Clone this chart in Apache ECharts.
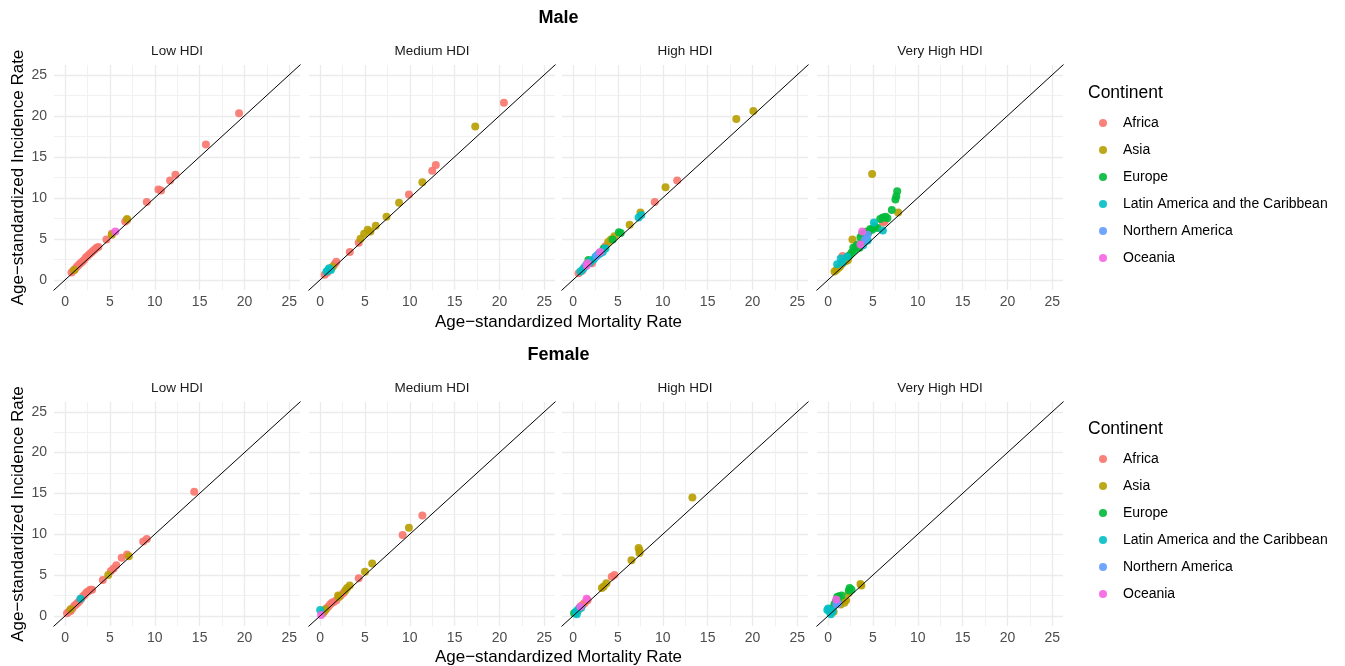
<!DOCTYPE html>
<html>
<head>
<meta charset="utf-8">
<script src="https://cdn.jsdelivr.net/npm/echarts@6/dist/echarts.min.js"></script>
<style>
html,body{margin:0;padding:0;background:#fff;}
#chart{width:1345px;height:666px;}
</style>
</head>
<body>
<div id="chart"></div>
<script>
// ---------- data ----------
const continents = ['Africa', 'Asia', 'Europe', 'Latin America and the Caribbean', 'Northern America', 'Oceania'];
const palette = ['#F8766D', '#B79F00', '#00BA38', '#00BFC4', '#619CFF', '#F564E3'];
const hdiLevels = ['Low HDI', 'Medium HDI', 'High HDI', 'Very High HDI'];
const sexes = ['Male', 'Female'];
const refLine = [-5, 30]; // identity line y = x

// [mortality, incidence]
const maleLow = {
  'Africa': [[0.7,0.9],[0.9,1.1],[1.1,1.3],[1.3,1.6],[1.5,1.8],[1.7,2.0],[1.9,2.2],[2.1,2.4],[2.3,2.7],[2.5,2.9],[2.7,3.1],[2.9,3.3],[3.1,3.5],[3.3,3.7],[3.5,3.9],[3.7,4.0],[4.6,4.9],[5.2,5.6],[6.7,7.1],[6.9,7.3],[9.1,9.5],[10.4,11.0],[10.7,10.9],[11.7,12.1],[12.3,12.8],[15.7,16.5],[19.4,20.3]],
  'Asia': [[1.0,1.2],[5.2,5.5],[6.9,7.4]],
  'Oceania': [[5.6,5.9]]
};
const maleMedium = {
  'Africa': [[0.5,0.6],[0.8,0.9],[1.6,1.9],[1.8,2.2],[3.3,3.4],[4.3,4.5],[9.9,10.4],[12.5,13.3],[12.9,14.0],[20.5,21.6]],
  'Asia': [[1.2,1.4],[1.4,1.6],[4.5,5.0],[4.9,5.6],[5.3,6.1],[5.6,5.9],[6.2,6.6],[7.4,7.7],[8.8,9.4],[11.4,11.9],[17.3,18.7]],
  'Latin America and the Caribbean': [[0.7,1.0],[0.9,1.2],[1.0,1.4],[1.2,1.2]]
};
const maleHigh = {
  'Africa': [[0.6,0.8],[1.0,1.1],[2.1,2.0],[3.6,4.1],[9.1,9.5],[11.6,12.1]],
  'Asia': [[3.9,4.6],[4.2,4.9],[4.6,5.3],[6.3,6.7],[7.5,8.2],[10.3,11.3],[18.2,19.6],[20.1,20.6]],
  'Europe': [[1.7,2.4],[2.9,3.2],[3.4,3.8],[4.4,4.9],[5.1,5.8],[5.3,5.7]],
  'Latin America and the Caribbean': [[0.8,1.0],[1.1,1.3],[1.3,1.6],[1.5,1.9],[1.8,2.0],[2.0,2.3],[2.3,2.5],[2.5,2.8],[2.7,3.0],[3.0,3.2],[3.3,3.4],[3.6,3.8],[7.3,7.6],[7.6,7.9]],
  'Northern America': [[2.6,2.9]],
  'Oceania': [[1.5,1.7],[1.6,2.0],[3.0,3.4]]
};
const maleVeryHigh = {
  'Africa': [[1.6,2.9],[3.7,4.4],[6.1,7.0],[6.3,7.1]],
  'Asia': [[0.7,1.0],[0.9,1.2],[1.1,1.4],[1.3,1.6],[1.5,1.9],[1.7,2.1],[2.0,2.3],[2.2,2.4],[2.4,3.0],[2.7,4.9],[4.9,12.9],[7.8,8.2]],
  'Europe': [[2.3,2.9],[2.6,3.3],[2.8,3.9],[2.9,3.6],[3.1,4.1],[3.3,4.3],[3.5,3.9],[3.6,5.2],[3.8,5.6],[4.0,4.6],[4.1,5.4],[4.3,5.9],[4.5,5.8],[4.7,6.2],[4.9,6.1],[5.2,6.5],[5.5,6.3],[5.8,7.4],[6.1,7.6],[6.4,7.7],[6.6,7.5],[7.1,8.5],[7.5,9.8],[7.6,10.2],[7.7,10.8]],
  'Latin America and the Caribbean': [[1.0,1.9],[1.4,2.6],[1.6,2.1],[2.1,2.8],[3.9,4.2],[4.4,4.8],[5.1,7.0],[6.1,6.0]],
  'Northern America': [[4.1,4.9],[4.4,5.5]],
  'Oceania': [[3.6,4.3],[3.8,5.9]]
};
const femaleLow = {
  'Africa': [[0.2,0.3],[0.4,0.5],[0.6,0.6],[0.8,0.9],[1.0,1.2],[1.2,1.4],[1.4,1.6],[1.6,1.8],[1.8,2.1],[2.0,2.4],[2.2,2.6],[2.4,2.9],[2.6,3.0],[2.8,3.2],[3.0,3.2],[4.2,4.4],[5.1,5.5],[5.4,5.8],[5.7,6.2],[6.3,7.1],[6.9,7.5],[8.7,9.1],[9.1,9.4],[14.4,15.2]],
  'Asia': [[0.6,0.8],[4.8,5.0],[7.1,7.3]],
  'Latin America and the Caribbean': [[1.7,2.1]]
};
const femaleMedium = {
  'Africa': [[0.5,0.6],[0.7,0.9],[0.9,1.1],[1.1,1.4],[1.3,1.6],[1.5,1.7],[1.8,1.9],[2.3,2.5],[2.6,2.8],[4.3,4.6],[9.2,9.9],[11.4,12.3]],
  'Asia': [[0.3,0.3],[0.4,0.6],[0.6,0.8],[2.0,2.5],[2.1,2.3],[2.8,3.1],[3.0,3.4],[3.3,3.7],[5.0,5.4],[5.8,6.4],[9.9,10.8]],
  'Latin America and the Caribbean': [[0.0,0.7]],
  'Oceania': [[0.1,0.1]]
};
const femaleHigh = {
  'Africa': [[0.7,1.0],[0.9,1.2],[1.1,1.4],[1.3,1.6],[1.6,1.9],[4.3,4.8],[4.6,5.0]],
  'Asia': [[0.5,0.6],[3.2,3.4],[3.4,3.6],[3.7,4.0],[6.5,6.8],[7.4,7.7],[7.4,8.0],[7.3,8.3],[13.3,14.5]],
  'Europe': [[0.1,0.3],[0.3,0.4]],
  'Latin America and the Caribbean': [[0.3,0.5],[0.4,0.2],[0.5,0.7],[0.7,0.9],[0.9,1.0]],
  'Oceania': [[0.8,1.1],[1.5,2.1]]
};
const femaleVeryHigh = {
  'Asia': [[0.6,0.5],[1.4,1.4],[1.8,1.6],[2.0,1.9],[2.3,2.8],[3.6,3.9],[3.7,3.7]],
  'Europe': [[0.4,0.9],[0.7,1.4],[0.8,1.6],[0.9,1.8],[1.0,2.3],[1.1,2.0],[1.2,2.4],[1.5,2.5],[2.3,3.1],[2.4,3.4],[2.6,3.2]],
  'Latin America and the Caribbean': [[-0.1,0.7],[0.0,0.9],[0.2,0.4],[0.3,0.2],[0.5,0.6]],
  'Northern America': [[0.9,1.4],[1.1,1.5]],
  'Oceania': [[0.9,2.0]]
};
const panelData = [maleLow, maleMedium, maleHigh, maleVeryHigh, femaleLow, femaleMedium, femaleHigh, femaleVeryHigh];

// ---------- layout ----------
const FONT = '"Liberation Sans", Arial, sans-serif';
const colLefts = [54, 309, 562, 817];
const panelW = 246;
const rowTops = [65, 402];
const rowHeights = [225, 224];
const axMin = -1.25, axMax = 26.2;

const grids = [], xAxes = [], yAxes = [], series = [], titles = [];

for (let r = 0; r < 2; r++) {
  for (let c = 0; c < 4; c++) {
    const i = r * 4 + c;
    grids.push({ left: colLefts[c], top: rowTops[r], width: panelW, height: rowHeights[r], containLabel: false });
    const common = {
      gridIndex: i, type: 'value', min: axMin, max: axMax, splitNumber: 5,
      axisLine: { show: false }, axisTick: { show: false },
      splitLine: { show: true, showMinLine: false, showMaxLine: false, lineStyle: { color: '#EBEBEB', width: 1.3 } },
      minorTick: { show: false, splitNumber: 2 },
      minorSplitLine: { show: true, lineStyle: { color: '#EFEFEF', width: 0.9 } }
    };
    xAxes.push(Object.assign({}, common, {
      axisLabel: { show: true, color: '#4D4D4D', fontSize: 14, fontFamily: FONT, margin: 5, showMinLabel: false, showMaxLabel: false }
    }));
    yAxes.push(Object.assign({}, common, {
      axisLabel: { show: c === 0, color: '#4D4D4D', fontSize: 14, fontFamily: FONT, margin: 7, showMinLabel: false, showMaxLabel: false },
      name: c === 0 ? 'Age\u2212standardized Incidence Rate' : '',
      nameLocation: 'middle', nameRotate: 90, nameGap: 27,
      nameTextStyle: { color: '#000', fontSize: 17, fontFamily: FONT }
    }));
    const pd = panelData[i];
    continents.forEach((name, k) => {
      series.push({
        name: name, type: 'scatter', xAxisIndex: i, yAxisIndex: i,
        data: pd[name] || [], symbol: 'circle', symbolSize: 8, z: 2,
        itemStyle: { color: palette[k], opacity: 0.9 }
      });
    });
    series.push({
      name: 'identity', type: 'line', xAxisIndex: i, yAxisIndex: i,
      data: refLine.map(v => [v, v]), symbol: 'none', clip: true, silent: true, z: 3,
      lineStyle: { color: '#000', width: 1 }
    });
    titles.push({
      text: hdiLevels[c], left: colLefts[c] + panelW / 2, top: rowTops[r] - 21, textAlign: 'center', padding: 0,
      textStyle: { fontSize: 13.5, fontWeight: 'normal', color: '#1A1A1A', fontFamily: FONT }
    });
  }
}

const plotCenter = (colLefts[0] + colLefts[3] + panelW) / 2;
const mainTitleTops = [9, 346];
const xTitleTops = [314, 649];
const legendTitleTops = [84, 420];
const legendTops = [116, 452];

for (let r = 0; r < 2; r++) {
  titles.push({
    text: sexes[r], left: plotCenter, top: mainTitleTops[r], textAlign: 'center', padding: 0,
    textStyle: { fontSize: 18, fontWeight: 'bold', color: '#000', fontFamily: FONT }
  });
  titles.push({
    text: 'Age\u2212standardized Mortality Rate', left: plotCenter, top: xTitleTops[r], textAlign: 'center', padding: 0,
    textStyle: { fontSize: 17, fontWeight: 'normal', color: '#000', fontFamily: FONT }
  });
  titles.push({
    text: 'Continent', left: 1088, top: legendTitleTops[r], padding: 0,
    textStyle: { fontSize: 17.5, fontWeight: 'normal', color: '#000', fontFamily: FONT }
  });
}

const legends = legendTops.map(t => ({
  data: continents, orient: 'vertical', left: 1099, top: t, padding: 0,
  icon: 'circle', itemWidth: 8, itemHeight: 8, itemGap: 13,
  selectedMode: false,
  textStyle: { fontSize: 14, color: '#000', fontFamily: FONT, padding: [0, 0, 0, 11] }
}));

const chart = echarts.init(document.getElementById('chart'));
chart.setOption({
  backgroundColor: '#fff',
  animation: false,
  title: titles,
  legend: legends,
  grid: grids,
  xAxis: xAxes,
  yAxis: yAxes,
  series: series
});
</script>
</body>
</html>
